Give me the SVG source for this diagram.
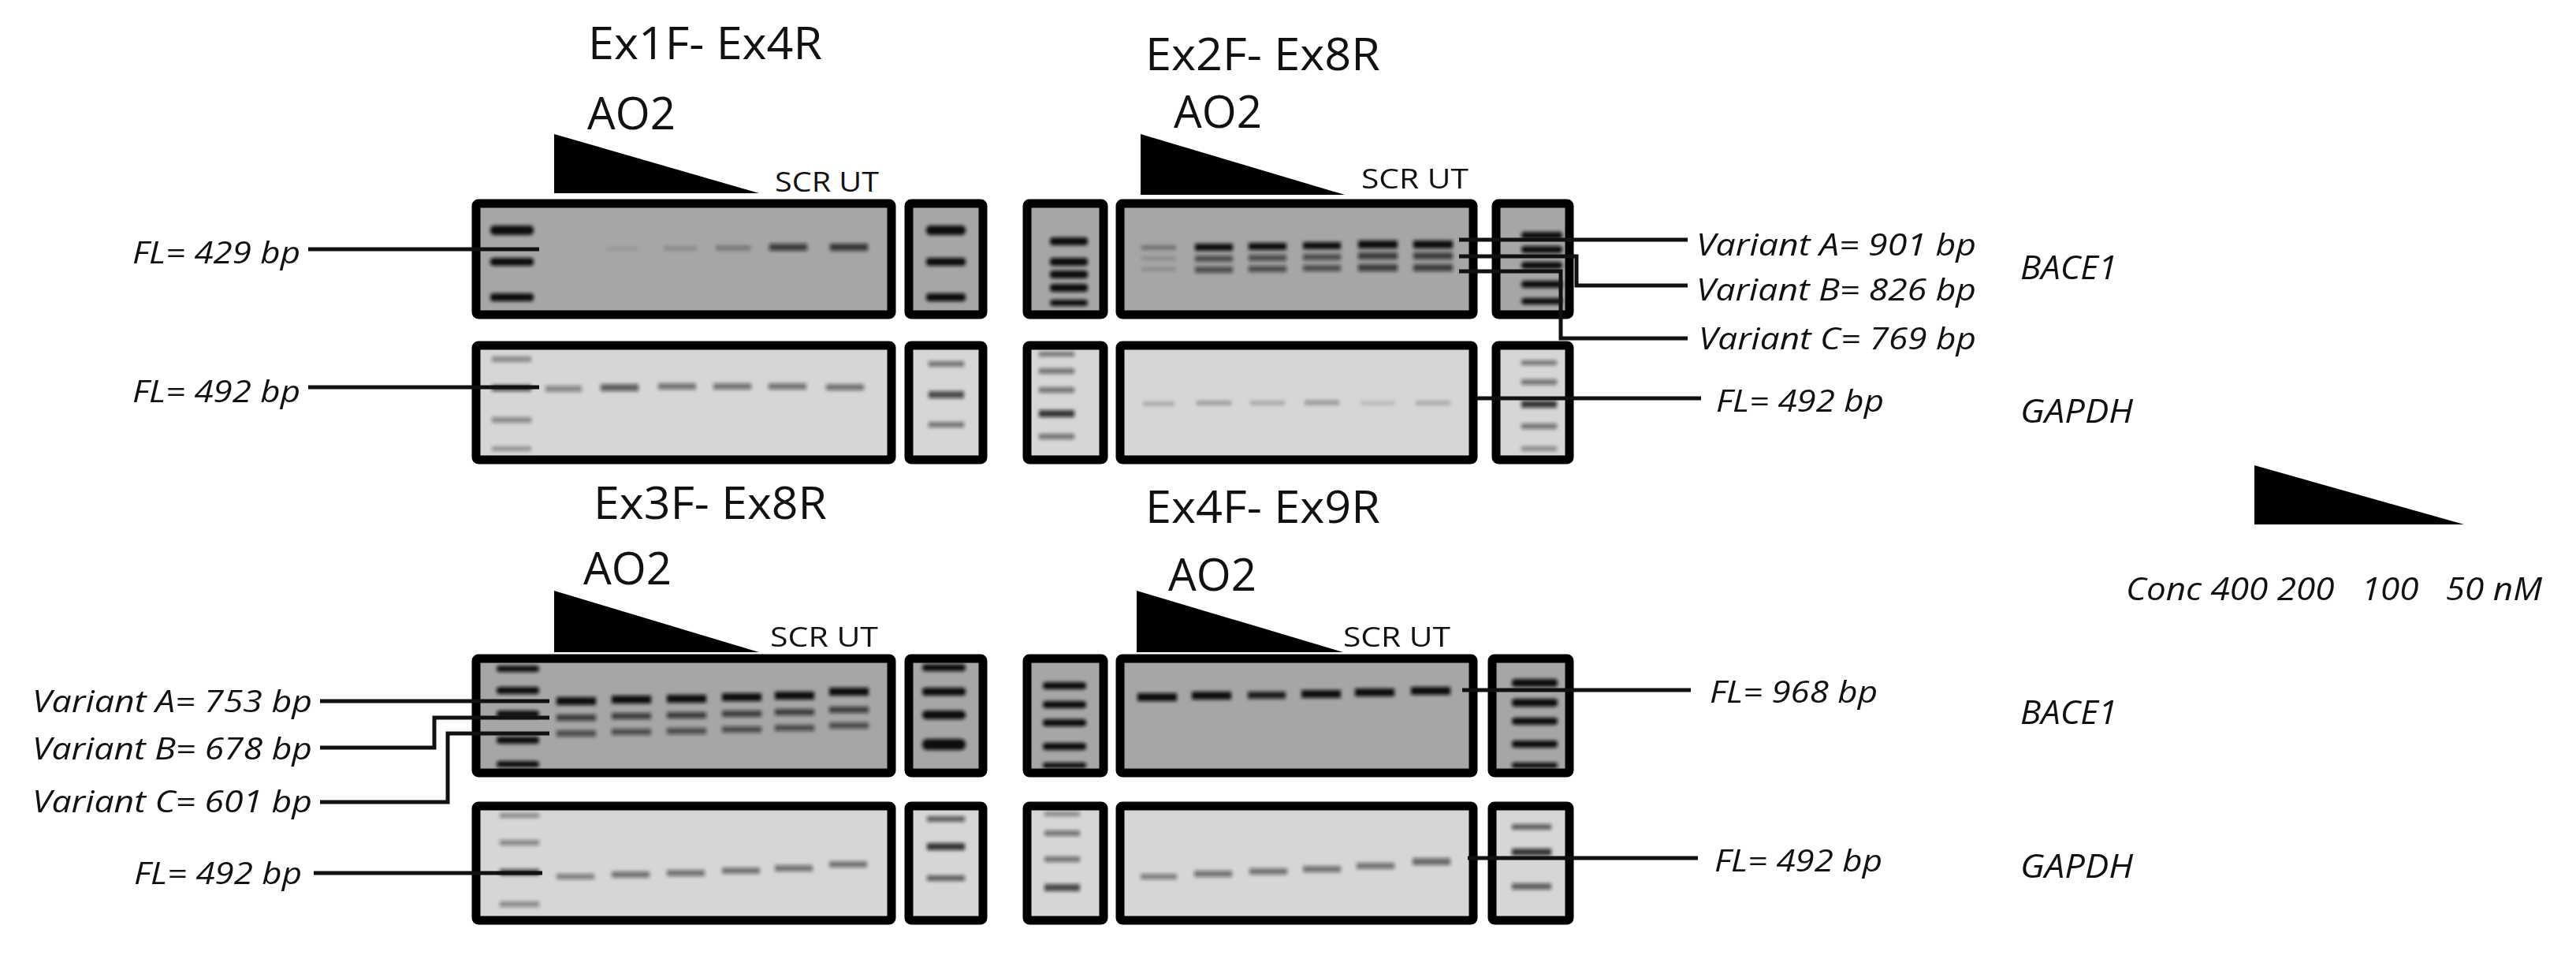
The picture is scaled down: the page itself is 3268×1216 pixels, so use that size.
<svg xmlns="http://www.w3.org/2000/svg" width="3268" height="1216" viewBox="0 0 3268 1216">
<defs>
<style>
.t{font-family:"Open Sans","Liberation Sans",sans-serif;fill:#111}
.ti{font-family:"Open Sans","Liberation Sans",sans-serif;font-style:italic;fill:#111}
.box{stroke:#000;stroke-width:11}
.dk{fill:#a6a6a6}
.lt{fill:#d6d6d6}
.b{fill:#111;filter:url(#bl)}
.c line,.c polyline{stroke:#111;stroke-width:5;fill:none}
</style>
<filter id="bl" x="-20%" y="-100%" width="140%" height="300%"><feGaussianBlur stdDeviation="2"/></filter>
</defs>
<rect width="3268" height="1216" fill="#fff"/>

<!-- Panel 1: Ex1F-Ex4R -->
<g id="panel1">
<text class="t" x="746" y="75" font-size="56" textLength="297" lengthAdjust="spacingAndGlyphs">Ex1F- Ex4R</text>
<text class="t" x="745" y="164" font-size="56" textLength="112" lengthAdjust="spacingAndGlyphs">AO2</text>
<polygon points="703,170 703,245 963,245" fill="#000"/>
<text class="t" x="983" y="243" font-size="34" textLength="132" lengthAdjust="spacingAndGlyphs">SCR UT</text>
<rect class="box dk" x="604" y="258" width="527" height="141" rx="3"/>
<rect class="box dk" x="1153" y="258" width="94" height="141" rx="3"/>
<rect class="box lt" x="604" y="438" width="527" height="145" rx="3"/>
<rect class="box lt" x="1153" y="438" width="94" height="145" rx="3"/>
<g class="b">
<rect x="622" y="286" width="55" height="12" rx="5"/><rect x="622" y="327" width="55" height="10" rx="4"/><rect x="622" y="372" width="55" height="10" rx="4"/>
<rect x="1175" y="286" width="50" height="12" rx="5"/><rect x="1175" y="327" width="50" height="10" rx="4"/><rect x="1175" y="372" width="50" height="10" rx="4"/>
<rect x="770" y="313" width="40" height="5" opacity="0.08"/><rect x="842" y="312" width="42" height="6" opacity="0.15"/><rect x="908" y="311" width="44" height="7" opacity="0.25"/><rect x="976" y="309" width="48" height="9" opacity="0.7"/><rect x="1053" y="309" width="48" height="9" opacity="0.75"/>
<rect x="624" y="452" width="50" height="7" opacity="0.4"/><rect x="624" y="488" width="50" height="8" opacity="0.7"/><rect x="624" y="529" width="50" height="7" opacity="0.4"/><rect x="624" y="566" width="50" height="6" opacity="0.3"/>
<rect x="1178" y="458" width="45" height="7" opacity="0.5"/><rect x="1178" y="496" width="45" height="9" opacity="0.7"/><rect x="1178" y="535" width="45" height="7" opacity="0.5"/>
<rect x="692" y="489" width="46" height="8" opacity="0.4"/><rect x="762" y="487" width="48" height="9" opacity="0.6"/><rect x="835" y="486" width="48" height="8" opacity="0.5"/><rect x="905" y="486" width="48" height="8" opacity="0.5"/><rect x="975" y="486" width="48" height="8" opacity="0.5"/><rect x="1048" y="487" width="48" height="8" opacity="0.5"/>
</g>
<text class="ti" x="168" y="334" font-size="38" textLength="213" lengthAdjust="spacingAndGlyphs">FL= 429 bp</text>
<text class="ti" x="168" y="510" font-size="38" textLength="213" lengthAdjust="spacingAndGlyphs">FL= 492 bp</text>
</g>

<!-- Panel 2: Ex2F-Ex8R -->
<g id="panel2">
<text class="t" x="1453" y="89" font-size="56" textLength="298" lengthAdjust="spacingAndGlyphs">Ex2F- Ex8R</text>
<text class="t" x="1489" y="162" font-size="56" textLength="112" lengthAdjust="spacingAndGlyphs">AO2</text>
<polygon points="1447,170 1447,247 1706,247" fill="#000"/>
<text class="t" x="1727" y="239" font-size="34" textLength="136" lengthAdjust="spacingAndGlyphs">SCR UT</text>
<rect class="box dk" x="1303" y="258" width="97" height="141" rx="3"/>
<rect class="box dk" x="1421" y="258" width="448" height="141" rx="3"/>
<rect class="box dk" x="1898" y="258" width="93" height="141" rx="3"/>
<rect class="box lt" x="1303" y="438" width="97" height="145" rx="3"/>
<rect class="box lt" x="1421" y="438" width="448" height="145" rx="3"/>
<rect class="box lt" x="1898" y="438" width="93" height="145" rx="3"/>
<g class="b">
<rect x="1332" y="301" width="48" height="10" rx="4"/><rect x="1332" y="327" width="48" height="10" rx="4"/><rect x="1332" y="343" width="48" height="10" rx="4"/><rect x="1332" y="360" width="48" height="10" rx="4"/><rect x="1332" y="380" width="48" height="8" rx="4"/>
<rect x="1930" y="294" width="52" height="9" rx="4"/><rect x="1930" y="312" width="52" height="9" rx="4"/><rect x="1930" y="332" width="52" height="9" rx="4"/><rect x="1930" y="356" width="52" height="9" rx="4"/><rect x="1930" y="378" width="52" height="8" rx="4"/>
<rect x="1318" y="446" width="45" height="6" opacity="0.5"/><rect x="1318" y="467" width="45" height="7" opacity="0.5"/><rect x="1318" y="491" width="45" height="7" opacity="0.5"/><rect x="1318" y="520" width="45" height="9" opacity="0.8"/><rect x="1318" y="550" width="45" height="7" opacity="0.5"/>
<rect x="1930" y="457" width="45" height="6" opacity="0.5"/><rect x="1930" y="481" width="45" height="7" opacity="0.5"/><rect x="1930" y="508" width="45" height="9" opacity="0.8"/><rect x="1930" y="537" width="45" height="7" opacity="0.5"/><rect x="1930" y="566" width="45" height="6" opacity="0.4"/>
<rect x="1448" y="311" width="44" height="6" opacity="0.3"/><rect x="1448" y="325" width="44" height="5" opacity="0.15"/><rect x="1448" y="339" width="44" height="5" opacity="0.15"/>
<rect x="1516" y="309" width="48" height="9"/><rect x="1516" y="324" width="48" height="8" opacity="0.6"/><rect x="1516" y="338" width="48" height="8" opacity="0.6"/>
<rect x="1584" y="308" width="48" height="9"/><rect x="1584" y="323" width="48" height="8" opacity="0.6"/><rect x="1584" y="337" width="48" height="8" opacity="0.6"/>
<rect x="1653" y="307" width="48" height="9"/><rect x="1653" y="322" width="48" height="8" opacity="0.6"/><rect x="1653" y="336" width="48" height="8" opacity="0.6"/>
<rect x="1723" y="305" width="50" height="10"/><rect x="1723" y="320" width="50" height="9" opacity="0.7"/><rect x="1723" y="335" width="50" height="9" opacity="0.7"/>
<rect x="1793" y="305" width="50" height="10"/><rect x="1793" y="320" width="50" height="9" opacity="0.7"/><rect x="1793" y="335" width="50" height="9" opacity="0.7"/>
<rect x="1450" y="509" width="40" height="6" opacity="0.2"/><rect x="1518" y="508" width="44" height="6" opacity="0.25"/><rect x="1586" y="508" width="44" height="6" opacity="0.2"/><rect x="1655" y="507" width="44" height="7" opacity="0.25"/><rect x="1726" y="508" width="44" height="6" opacity="0.12"/><rect x="1796" y="508" width="44" height="6" opacity="0.2"/>
</g>
<text class="ti" x="2152" y="324" font-size="38" textLength="355" lengthAdjust="spacingAndGlyphs">Variant A= 901 bp</text>
<text class="ti" x="2152" y="381" font-size="38" textLength="355" lengthAdjust="spacingAndGlyphs">Variant B= 826 bp</text>
<text class="ti" x="2155" y="443" font-size="38" textLength="352" lengthAdjust="spacingAndGlyphs">Variant C= 769 bp</text>
<text class="ti" x="2177" y="522" font-size="38" textLength="213" lengthAdjust="spacingAndGlyphs">FL= 492 bp</text>
</g>

<!-- Panel 3: Ex3F-Ex8R -->
<g id="panel3">
<text class="t" x="753" y="658" font-size="56" textLength="296" lengthAdjust="spacingAndGlyphs">Ex3F- Ex8R</text>
<text class="t" x="740" y="741" font-size="56" textLength="112" lengthAdjust="spacingAndGlyphs">AO2</text>
<polygon points="703,749 703,827 963,827" fill="#000"/>
<text class="t" x="977" y="820" font-size="34" textLength="137" lengthAdjust="spacingAndGlyphs">SCR UT</text>
<rect class="box dk" x="604" y="835" width="527" height="145" rx="3"/>
<rect class="box dk" x="1153" y="835" width="94" height="145" rx="3"/>
<rect class="box lt" x="604" y="1022" width="527" height="145" rx="3"/>
<rect class="box lt" x="1153" y="1022" width="94" height="145" rx="3"/>
<g class="b">
<rect x="630" y="844" width="54" height="8" rx="4"/><rect x="630" y="871" width="54" height="9" rx="4"/><rect x="630" y="901" width="54" height="9" rx="4"/><rect x="630" y="934" width="54" height="9" rx="4"/><rect x="630" y="965" width="54" height="8" rx="4"/>
<rect x="1170" y="842" width="55" height="9" rx="4"/><rect x="1170" y="872" width="55" height="10" rx="4"/><rect x="1170" y="901" width="55" height="11" rx="5"/><rect x="1170" y="937" width="55" height="14" rx="6"/>
<rect x="706" y="884" width="50" height="10"/><rect x="706" y="906" width="50" height="8" opacity="0.7"/><rect x="706" y="926" width="50" height="8" opacity="0.6"/>
<rect x="776" y="882" width="50" height="10"/><rect x="776" y="904" width="50" height="8" opacity="0.7"/><rect x="776" y="924" width="50" height="8" opacity="0.6"/>
<rect x="846" y="881" width="50" height="10"/><rect x="846" y="903" width="50" height="8" opacity="0.7"/><rect x="846" y="923" width="50" height="8" opacity="0.6"/>
<rect x="916" y="879" width="50" height="10"/><rect x="916" y="901" width="50" height="8" opacity="0.7"/><rect x="916" y="921" width="50" height="8" opacity="0.6"/>
<rect x="983" y="877" width="50" height="10"/><rect x="983" y="899" width="50" height="8" opacity="0.7"/><rect x="983" y="919" width="50" height="8" opacity="0.6"/>
<rect x="1052" y="872" width="50" height="10"/><rect x="1052" y="896" width="50" height="8" opacity="0.7"/><rect x="1052" y="916" width="50" height="8" opacity="0.6"/>
<rect x="634" y="1031" width="50" height="6" opacity="0.4"/><rect x="634" y="1065" width="50" height="7" opacity="0.4"/><rect x="634" y="1102" width="50" height="8" opacity="0.7"/><rect x="634" y="1143" width="50" height="7" opacity="0.4"/>
<rect x="1176" y="1035" width="48" height="7" opacity="0.6"/><rect x="1176" y="1069" width="48" height="9" opacity="0.8"/><rect x="1176" y="1110" width="48" height="7" opacity="0.6"/>
<rect x="706" y="1108" width="48" height="7" opacity="0.45"/><rect x="776" y="1105" width="48" height="8" opacity="0.5"/><rect x="846" y="1103" width="48" height="8" opacity="0.5"/><rect x="916" y="1100" width="48" height="8" opacity="0.5"/><rect x="983" y="1097" width="48" height="8" opacity="0.5"/><rect x="1052" y="1092" width="48" height="8" opacity="0.5"/>
</g>
<text class="ti" x="41" y="903" font-size="38" textLength="355" lengthAdjust="spacingAndGlyphs">Variant A= 753 bp</text>
<text class="ti" x="41" y="963" font-size="38" textLength="355" lengthAdjust="spacingAndGlyphs">Variant B= 678 bp</text>
<text class="ti" x="41" y="1030" font-size="38" textLength="355" lengthAdjust="spacingAndGlyphs">Variant C= 601 bp</text>
<text class="ti" x="170" y="1121" font-size="38" textLength="213" lengthAdjust="spacingAndGlyphs">FL= 492 bp</text>
</g>

<!-- Panel 4: Ex4F-Ex9R -->
<g id="panel4">
<text class="t" x="1453" y="663" font-size="56" textLength="298" lengthAdjust="spacingAndGlyphs">Ex4F- Ex9R</text>
<text class="t" x="1482" y="749" font-size="56" textLength="112" lengthAdjust="spacingAndGlyphs">AO2</text>
<polygon points="1442,749 1442,827 1704,827" fill="#000"/>
<text class="t" x="1704" y="820" font-size="34" textLength="136" lengthAdjust="spacingAndGlyphs">SCR UT</text>
<rect class="box dk" x="1303" y="835" width="97" height="145" rx="3"/>
<rect class="box dk" x="1421" y="835" width="448" height="145" rx="3"/>
<rect class="box dk" x="1893" y="835" width="98" height="145" rx="3"/>
<rect class="box lt" x="1303" y="1022" width="97" height="145" rx="3"/>
<rect class="box lt" x="1421" y="1022" width="448" height="145" rx="3"/>
<rect class="box lt" x="1893" y="1022" width="98" height="145" rx="3"/>
<g class="b">
<rect x="1323" y="865" width="55" height="9" rx="4"/><rect x="1323" y="889" width="55" height="9" rx="4"/><rect x="1323" y="912" width="55" height="9" rx="4"/><rect x="1323" y="942" width="55" height="9" rx="4"/><rect x="1323" y="967" width="55" height="7" rx="3"/>
<rect x="1918" y="861" width="58" height="10" rx="4"/><rect x="1918" y="886" width="58" height="10" rx="4"/><rect x="1918" y="910" width="58" height="9" rx="4"/><rect x="1918" y="939" width="58" height="9" rx="4"/><rect x="1918" y="967" width="58" height="7" rx="3"/>
<rect x="1443" y="879" width="50" height="10"/><rect x="1512" y="877" width="50" height="10"/><rect x="1583" y="877" width="48" height="9" opacity="0.9"/><rect x="1651" y="875" width="50" height="10"/><rect x="1719" y="873" width="50" height="10"/><rect x="1790" y="871" width="50" height="10"/>
<rect x="1325" y="1029" width="45" height="6" opacity="0.4"/><rect x="1325" y="1053" width="45" height="7" opacity="0.5"/><rect x="1325" y="1086" width="45" height="7" opacity="0.5"/><rect x="1325" y="1121" width="45" height="9" opacity="0.7"/>
<rect x="1918" y="1045" width="50" height="7" opacity="0.6"/><rect x="1918" y="1076" width="50" height="9" opacity="0.8"/><rect x="1918" y="1120" width="50" height="8" opacity="0.6"/>
<rect x="1447" y="1108" width="46" height="7" opacity="0.45"/><rect x="1515" y="1104" width="48" height="8" opacity="0.5"/><rect x="1585" y="1101" width="48" height="8" opacity="0.5"/><rect x="1653" y="1098" width="48" height="8" opacity="0.5"/><rect x="1721" y="1094" width="48" height="8" opacity="0.5"/><rect x="1792" y="1088" width="48" height="9" opacity="0.55"/>
</g>
<text class="ti" x="2169" y="891" font-size="38" textLength="213" lengthAdjust="spacingAndGlyphs">FL= 968 bp</text>
<text class="ti" x="2175" y="1105" font-size="38" textLength="213" lengthAdjust="spacingAndGlyphs">FL= 492 bp</text>
</g>

<!-- Gene labels and legend -->
<g id="legend">
<text class="ti" x="2563" y="354" font-size="42" textLength="123" lengthAdjust="spacingAndGlyphs">BACE1</text>
<text class="ti" x="2563" y="536" font-size="42" textLength="143" lengthAdjust="spacingAndGlyphs">GAPDH</text>
<text class="ti" x="2563" y="918" font-size="42" textLength="123" lengthAdjust="spacingAndGlyphs">BACE1</text>
<text class="ti" x="2563" y="1113" font-size="42" textLength="143" lengthAdjust="spacingAndGlyphs">GAPDH</text>
<polygon points="2860,590 2860,665 3126,665" fill="#000"/>
<text class="ti" x="2697" y="761" font-size="40" textLength="528" lengthAdjust="spacingAndGlyphs" xml:space="preserve">Conc 400 200   100   50 nM</text>
</g>

<!-- Connectors -->
<g id="connectors" class="c">
<line x1="391" y1="316" x2="684" y2="316"/>
<line x1="391" y1="491" x2="684" y2="491"/>
<line x1="1851" y1="304" x2="2141" y2="304"/>
<polyline points="1851,325 2000,325 2000,362 2141,362"/>
<polyline points="1851,344 1980,344 1980,429 2141,429"/>
<line x1="1874" y1="505" x2="2158" y2="505"/>
<line x1="406" y1="889" x2="697" y2="889"/>
<polyline points="406,948 551,948 551,910 697,910"/>
<polyline points="406,1017 568,1017 568,930 697,930"/>
<line x1="398" y1="1107" x2="688" y2="1107"/>
<line x1="1855" y1="875" x2="2145" y2="875"/>
<line x1="1862" y1="1088" x2="2154" y2="1088"/>
</g>
</svg>
